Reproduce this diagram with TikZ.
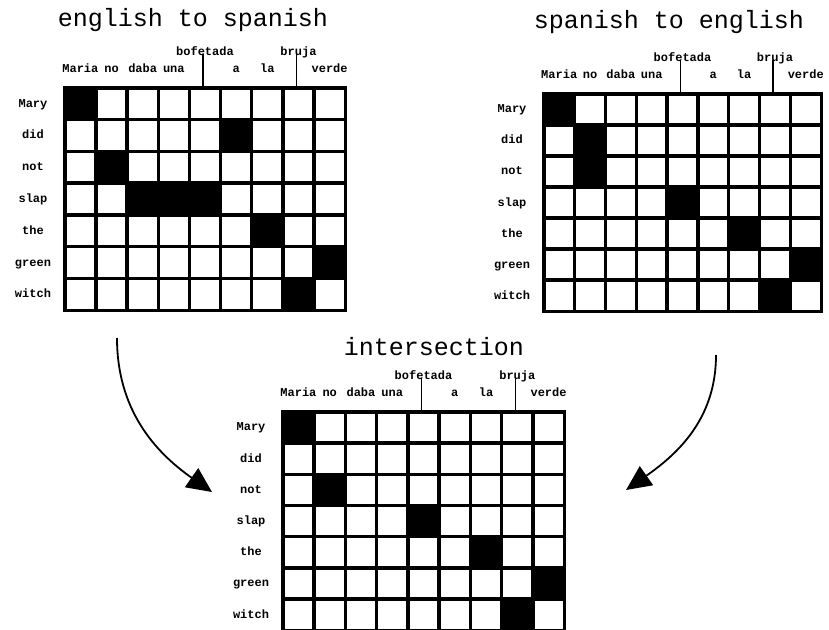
\documentclass[tikz,border=0pt]{standalone}
\usepackage{fontspec}
\usetikzlibrary{arrows.meta}
\newfontfamily\monofam{Liberation Mono}
\tikzset{
  title/.style={font=\monofam\fontsize{25}{30}\selectfont, anchor=base, inner sep=0pt},
  lab/.style={font=\monofam\bfseries\fontsize{12}{14}\selectfont, anchor=base, inner sep=0pt},
  stem/.style={line width=1.2pt},
  flow/.style={line width=1.8pt, -{Triangle[length=25pt,width=23pt]}},
}
\newcommand\amgrid[6]{%
  \pgfmathsetmacro\gx{#2+1.8}%
  \pgfmathsetmacro\gy{#3+1.8}%
  \pgfmathsetmacro\cellw{(#4-#2-3.6)/9}%
  \pgfmathsetmacro\cellh{(#5-#3-3.6)/7}%
  \coordinate (#1-top) at (0,-#3);
  \fill[black] (#2,-#3) rectangle (#4,-#5);
  \foreach \ri in {1,...,7}{\foreach \ci in {1,...,9}{%
     \fill[white] ({\gx+(\ci-1)*\cellw+1.7},{-(\gy+(\ri-1)*\cellh+1.7)}) rectangle ({\gx+\ci*\cellw-1.7},{-(\gy+\ri*\cellh-1.7)});}}
  \foreach \ri/\ci in {#6}{%
     \fill[black] ({\gx+(\ci-1)*\cellw},{-(\gy+(\ri-1)*\cellh)}) rectangle ({\gx+\ci*\cellw},{-(\gy+\ri*\cellh)});}
  \foreach \w [count=\ri] in {Mary,did,not,slap,the,green,witch}{%
     \node[lab] (#1-r\ri) at ({#2-30},{-(\gy+(\ri-0.5)*\cellh+3.5)}) {\w};}
  \foreach \w/\up [count=\ci] in {Maria/0,no/0,daba/0,una/0,bofetada/1,a/0,la/0,bruja/1,verde/0}{%
     \node[lab] (#1-c\ci) at ({\gx+(\ci-0.5)*\cellw},{-(#3-13.5-17*\up)}) {\w};
     \ifnum\up=1 \draw[stem] ([xshift=-2pt,yshift=2pt]#1-c\ci.base) -- ([xshift=-2pt]#1-c\ci.base |- #1-top);\fi}
}
\begin{document}
\begin{tikzpicture}[x=1pt,y=1pt]
\useasboundingbox (0,0) rectangle (829,-629);
\node[title] (t1) at (193,-27) {english to spanish};
\node[title] (t2) at (669,-28) {spanish to english};
\node[title] (t3) at (434,-355) {intersection};
\amgrid{es}{63}{86}{347}{312}{1/1,2/6,3/2,4/3,4/4,4/5,5/7,6/9,7/8}
\amgrid{se}{542}{92}{823}{313}{1/1,2/2,3/2,4/5,5/7,6/9,7/8}
\amgrid{in}{281}{410}{566}{632}{1/1,3/2,4/5,5/7,6/9,7/8}
\coordinate (a1s) at (117,-338);
\coordinate (a1e) at (212,-492);
\draw[flow] (a1s) to[out=-90,in=145] (a1e);
\coordinate (a2s) at (716,-355);
\coordinate (a2e) at (626,-490);
\draw[flow] (a2s) to[out=-90,in=35] (a2e);
\end{tikzpicture}
\end{document}
